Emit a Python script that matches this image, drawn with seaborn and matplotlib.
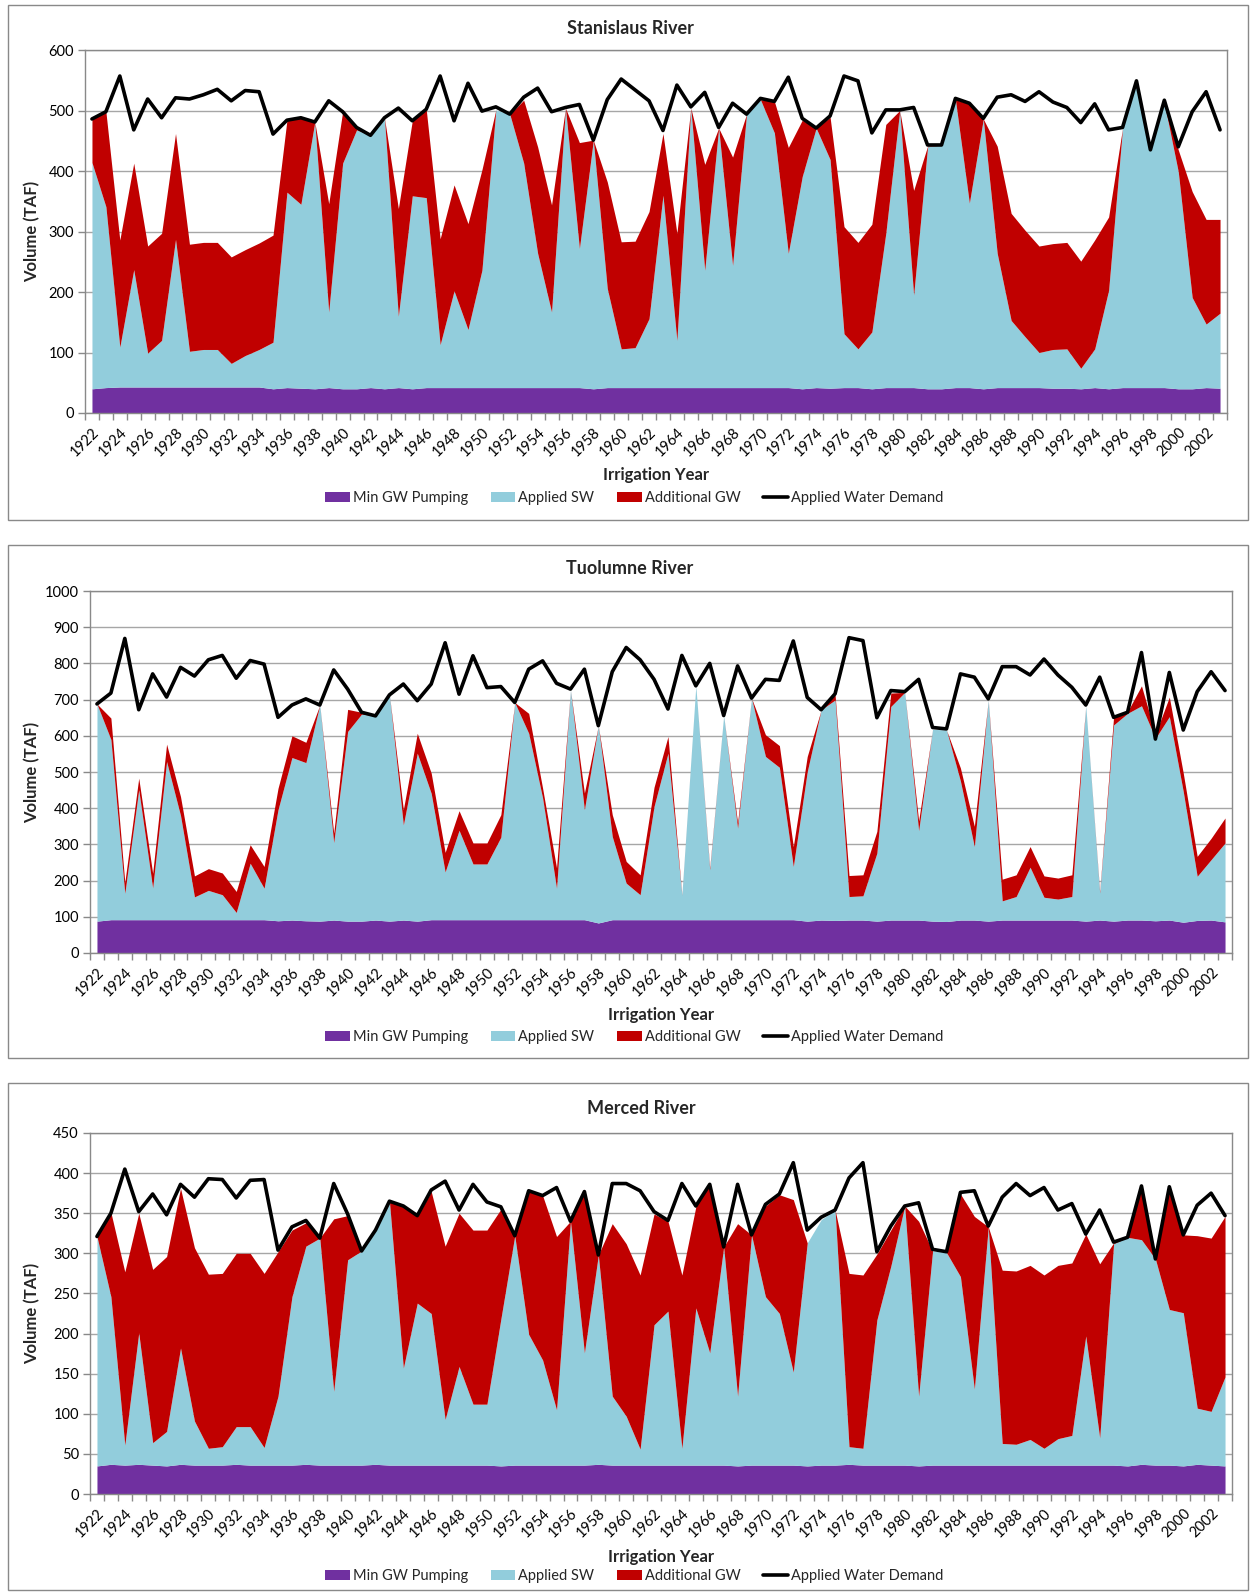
import matplotlib
matplotlib.use("Agg")
import matplotlib.pyplot as plt
from matplotlib.patches import Patch, Rectangle
from matplotlib.lines import Line2D
import seaborn as sns

years = list(range(1922, 2004))

# Stanislaus River (TAF)
stan_min_gw = [40, 42, 43, 43, 43, 43, 43, 43, 43, 43,
               43, 43, 43, 40, 42, 41, 40, 42, 40, 40,
               42, 40, 42, 40, 42, 42, 42, 42, 42, 42,
               42, 42, 42, 42, 42, 42, 40, 42, 42, 42,
               42, 42, 42, 42, 42, 42, 42, 42, 42, 42,
               42, 40, 42, 41, 42, 42, 40, 42, 42, 42,
               40, 40, 42, 42, 40, 42, 42, 42, 42, 41,
               41, 40, 42, 40, 42, 42, 42, 42, 40, 40,
               42, 41]
stan_sw = [374, 299, 66, 194, 56, 77, 244, 59, 62, 62,
           39, 52, 62, 77, 323, 304, 441, 125, 373, 428,
           417, 448, 118, 319, 314, 71, 160, 96, 194, 459,
           452, 371, 222, 125, 462, 230, 411, 164, 64, 66,
           114, 318, 78, 462, 194, 429, 202, 452, 476, 421,
           222, 351, 429, 378, 89, 64, 94, 255, 458, 153,
           400, 403, 476, 305, 446, 222, 111, 84, 58, 64,
           65, 34, 64, 163, 429, 506, 393, 470, 359, 151,
           105, 124]
stan_add_gw = [72, 157, 177, 176, 177, 177, 175, 177, 177, 177,
               176, 175, 176, 177, 119, 143, 0, 179, 85, 4,
               0, 0, 178, 124, 146, 175, 175, 175, 166, 0,
               0, 104, 176, 177, 0, 175, 0, 176, 177, 176,
               177, 102, 177, 0, 175, 0, 179, 0, 0, 52,
               175, 93, 0, 70, 177, 176, 178, 180, 0, 173,
               1, 0, 0, 164, 0, 177, 177, 176, 176, 175,
               176, 177, 180, 121, 0, 0, 0, 0, 36, 175,
               173, 155]
stan_demand = [486, 498, 557, 468, 519, 488, 521, 519, 526, 535,
               516, 533, 531, 461, 484, 488, 481, 516, 498, 472,
               459, 488, 504, 483, 502, 557, 483, 545, 499, 506,
               494, 522, 537, 498, 505, 510, 451, 518, 552, 534,
               516, 467, 542, 506, 530, 472, 512, 494, 520, 515,
               555, 487, 471, 491, 557, 549, 463, 501, 501, 505,
               443, 443, 520, 512, 487, 522, 526, 515, 531, 514,
               505, 480, 511, 468, 472, 549, 435, 517, 440, 498,
               531, 468]

# Tuolumne River (TAF)
tuol_min_gw = [88, 92, 92, 92, 92, 92, 92, 92, 92, 92,
               92, 92, 92, 89, 91, 89, 88, 91, 88, 88,
               91, 88, 91, 88, 92, 92, 92, 92, 92, 92,
               92, 92, 92, 92, 92, 92, 83, 92, 92, 92,
               92, 92, 92, 92, 92, 92, 92, 92, 92, 92,
               92, 88, 91, 90, 91, 91, 88, 91, 91, 91,
               88, 87, 91, 91, 88, 91, 91, 91, 91, 91,
               91, 88, 91, 88, 91, 91, 89, 91, 85, 90,
               91, 86]
tuol_sw = [600, 498, 73, 359, 88, 437, 288, 63, 81, 69,
           20, 156, 87, 307, 449, 437, 597, 214, 524, 572,
           564, 625, 263, 464, 349, 132, 247, 154, 154, 228,
           600, 515, 336, 87, 635, 304, 545, 230, 101, 69,
           313, 460, 68, 646, 138, 564, 253, 612, 451, 421,
           147, 413, 581, 609, 65, 67, 188, 590, 629, 247,
           530, 529, 384, 203, 611, 53, 65, 146, 63, 58,
           65, 595, 75, 542, 571, 592, 504, 562, 361, 122,
           167, 218]
tuol_add_gw = [0, 59, 30, 32, 40, 48, 52, 58, 60, 60,
               58, 51, 60, 59, 60, 56, 0, 26, 61, 5,
               0, 0, 42, 55, 56, 54, 54, 58, 58, 62,
               0, 55, 27, 56, 0, 46, 0, 60, 60, 55,
               53, 46, 1, 0, 5, 0, 15, 0, 60, 60,
               55, 42, 0, 14, 58, 58, 60, 37, 0, 27,
               0, 0, 36, 56, 0, 60, 60, 57, 59, 58,
               60, 0, 4, 23, 5, 55, 12, 54, 51, 55,
               59, 69]
tuol_demand = [688, 718, 869, 672, 771, 707, 789, 765, 810, 822,
               759, 808, 798, 651, 685, 702, 685, 782, 729, 665,
               655, 713, 743, 697, 743, 857, 715, 821, 733, 736,
               692, 784, 807, 745, 729, 784, 628, 777, 844, 810,
               756, 674, 822, 738, 800, 656, 793, 704, 756, 753,
               862, 706, 672, 716, 871, 863, 650, 725, 722, 756,
               623, 619, 771, 762, 702, 791, 791, 768, 812, 768,
               734, 685, 762, 651, 665, 830, 591, 775, 616, 722,
               777, 725]

# Merced River (TAF)
merc_min_gw = [35, 37, 36, 37, 36, 35, 37, 36, 36, 36,
               37, 36, 36, 36, 36, 37, 36, 36, 36, 36,
               37, 36, 36, 36, 36, 36, 36, 36, 36, 35,
               36, 36, 36, 36, 36, 36, 37, 36, 36, 36,
               36, 36, 36, 36, 36, 36, 35, 36, 36, 36,
               36, 35, 36, 36, 37, 36, 36, 36, 36, 35,
               36, 36, 36, 36, 36, 36, 36, 36, 36, 36,
               36, 36, 36, 36, 35, 37, 36, 36, 35, 37,
               36, 35]
merc_sw = [286, 209, 25, 164, 28, 43, 145, 55, 21, 23,
           47, 48, 22, 86, 210, 272, 283, 92, 256, 267,
           292, 329, 121, 202, 189, 57, 123, 76, 76, 183,
           286, 163, 131, 69, 304, 140, 261, 86, 61, 20,
           175, 192, 21, 196, 140, 272, 87, 287, 210, 189,
           116, 278, 306, 318, 22, 21, 181, 248, 323, 87,
           267, 265, 235, 95, 297, 27, 26, 32, 21, 33,
           37, 161, 34, 276, 285, 280, 257, 194, 191, 70,
           67, 111]
merc_add_gw = [0, 105, 216, 149, 216, 218, 199, 216, 217, 216,
               216, 216, 217, 180, 83, 29, 0, 215, 55, 0,
               0, 0, 201, 108, 152, 216, 191, 217, 217, 137,
               0, 178, 205, 216, 0, 201, 0, 215, 215, 217,
               138, 112, 216, 126, 210, 0, 215, 0, 113, 148,
               215, 0, 0, 0, 216, 216, 82, 45, 0, 218,
               0, 0, 103, 215, 0, 216, 216, 217, 216, 216,
               215, 127, 217, 1, 0, 66, 0, 151, 97, 215,
               216, 200]
merc_demand = [321, 350, 405, 352, 374, 348, 386, 370, 393, 392,
               369, 391, 392, 304, 333, 341, 319, 387, 349, 303,
               329, 365, 359, 347, 379, 390, 354, 386, 364, 358,
               322, 378, 372, 382, 340, 377, 298, 387, 387, 378,
               352, 341, 387, 359, 386, 308, 386, 323, 361, 374,
               413, 329, 345, 354, 394, 413, 302, 334, 359, 363,
               305, 302, 376, 378, 334, 370, 387, 372, 382, 354,
               362, 324, 354, 314, 320, 384, 293, 383, 323, 360,
               375, 347]

labels = ['Min GW Pumping', 'Applied SW', 'Additional GW', 'Applied Water Demand']
colors = ['#7030A0', '#92CDDC', '#C00000']
GRID = '#a6a6a6'
EDGE = '#898989'

W, H = 1250, 1592

sns.set_theme(style="white")
plt.rcParams['font.family'] = ['Lato', 'DejaVu Sans']

fig = plt.figure(figsize=(W / 100, H / 100), dpi=100)


def fy(px):
    return 1 - px / H


def draw_panel(title, min_gw, sw, add_gw, demand, ymax, ystep,
               box, plot, title_xy, xlab_y, leg_y):
    # frame around the whole chart block
    x0, y0, x1, y1 = box
    fig.patches.append(Rectangle((x0 / W, fy(y1)), (x1 - x0) / W, (y1 - y0) / H,
                                 transform=fig.transFigure, fill=False,
                                 edgecolor=EDGE, lw=1))
    l, t, r, b = plot
    ax = fig.add_axes([l / W, fy(b), (r - l) / W, (b - t) / H])
    ax.stackplot(years, min_gw, sw, add_gw, colors=colors, lw=0, zorder=2)
    sns.lineplot(x=years, y=demand, color='black', lw=2.6, ax=ax, zorder=3)

    ax.set_xlim(1921.5, 2003.5)
    ax.set_ylim(0, ymax)
    ax.set_yticks(range(0, ymax + 1, ystep))
    ax.set_xticks(years[::2])
    ax.set_xticklabels([str(y) for y in years[::2]], rotation=45,
                       ha='right', va='top', rotation_mode='anchor')
    ax.set_xticks([y - 0.5 for y in years] + [2003.5], minor=True)
    ax.tick_params(axis='x', which='major', length=0, pad=9,
                   labelsize=10.5, labelcolor='black')
    ax.tick_params(axis='x', which='minor', length=5, width=1,
                   color=EDGE, direction='out', bottom=True)
    ax.tick_params(axis='y', length=5, width=1, color=EDGE, direction='out',
                   left=True, labelsize=10.5, labelcolor='black', pad=3)
    ax.grid(axis='y', color=GRID, lw=1)
    ax.set_axisbelow(True)
    for s in ax.spines.values():
        s.set_color(EDGE)
        s.set_linewidth(1)
    ax.set_xlabel('')
    ax.set_ylabel('')

    fig.text(title_xy[0] / W, fy(title_xy[1]), title, ha='center', va='center',
             fontsize=13, fontweight='bold')
    fig.text(32 / W, fy((t + b) / 2), 'Volume (TAF)', rotation=90,
             ha='center', va='center', fontsize=12, fontweight='bold')
    fig.text((l + r) / 2 / W, fy(xlab_y), 'Irrigation Year', ha='center',
             va='center', fontsize=12, fontweight='bold')

    handles = [Patch(facecolor=c, edgecolor='none') for c in colors]
    handles.append(Line2D([0], [0], color='black', lw=2.6))
    fig.legend(handles, labels, loc='center', bbox_to_anchor=(634 / W, fy(leg_y)),
               ncol=4, frameon=False, fontsize=10.5, handlelength=1.7,
               handleheight=0.65, handletextpad=0.2, columnspacing=1.55,
               borderpad=0)
    return ax


draw_panel('Stanislaus River', stan_min_gw, stan_sw, stan_add_gw, stan_demand,
           600, 100, box=(8, 5, 1248, 520), plot=(85, 50, 1227, 413),
           title_xy=(630, 28), xlab_y=475, leg_y=498)
draw_panel('Tuolumne River', tuol_min_gw, tuol_sw, tuol_add_gw, tuol_demand,
           1000, 100, box=(8, 545, 1248, 1058), plot=(90, 591, 1232, 953),
           title_xy=(630, 569), xlab_y=1015, leg_y=1037)
draw_panel('Merced River', merc_min_gw, merc_sw, merc_add_gw, merc_demand,
           450, 50, box=(8, 1083, 1248, 1590), plot=(90, 1133, 1232, 1494),
           title_xy=(641, 1109), xlab_y=1557, leg_y=1576)

fig.savefig('out.png', dpi=100)
plt.close(fig)
